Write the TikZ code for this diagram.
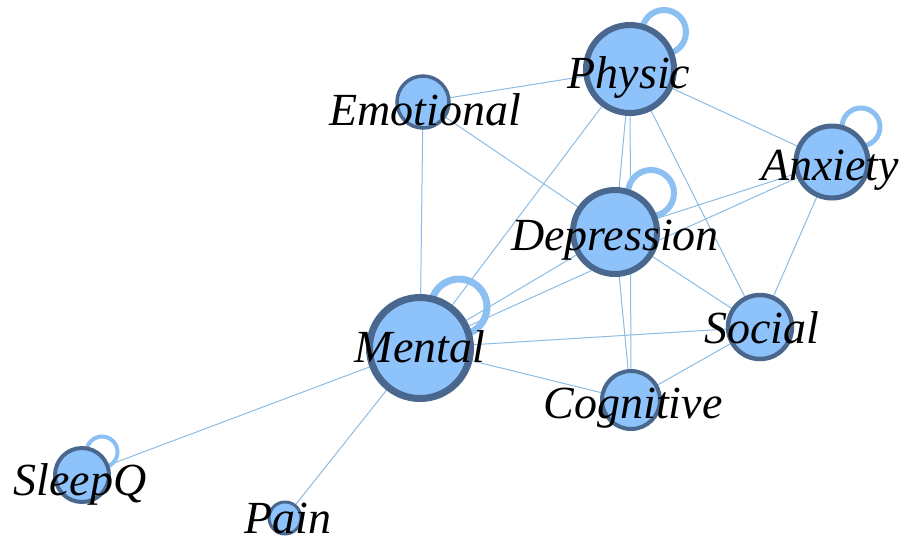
\documentclass[tikz,border=0pt]{standalone}
\usepackage{fontspec}
\newfontfamily\lblfont{Liberation Serif}
\definecolor{edgecol}{RGB}{140,188,228}
\definecolor{loopcol}{RGB}{140,192,242}
\definecolor{nodefill}{RGB}{142,194,250}
\definecolor{nodeborder}{RGB}{74,104,142}
\tikzset{
  netedge/.style={draw=edgecol, line width=1pt},
  selfloop/.style={draw=loopcol},
  vertex/.style={circle, fill=nodefill, draw=nodeborder, inner sep=0pt},
  lbl/.style={anchor=base, inner sep=0pt, font=\lblfont\fontsize{46}{46}\selectfont\itshape},
}
\begin{document}
\begin{tikzpicture}[x=1pt,y=-1pt]
\useasboundingbox (0,0) rectangle (907,544);
% node centres
\coordinate (P) at (630,69);
\coordinate (E) at (423,102);
\coordinate (D) at (615,232);
\coordinate (A) at (832,162);
\coordinate (S) at (760,327);
\coordinate (M) at (420,348);
\coordinate (C) at (631,400);
\coordinate (Q) at (82,475);
\coordinate (N) at (285,518);
% edges
\foreach \a/\b in {E/P,E/D,E/M,P/A,P/D,P/C,P/S,P/M,A/D,A/M,A/S,D/M,D/S,D/C,M/S,M/C,M/Q,M/N,S/C}
  \draw[netedge] (\a) -- (\b);
% self loops
\draw[selfloop, line width=6pt] (664,32) circle (22);
\draw[selfloop, line width=6pt] (651,193) circle (23);
\draw[selfloop, line width=7pt] (459,307) circle (28);
\draw[selfloop, line width=5pt] (861,127) circle (19);
\draw[selfloop, line width=4pt] (102,452) circle (15.5);
% nodes
\node[vertex, line width=6pt, minimum size=88pt] (nP) at (P) {};
\node[vertex, line width=3.5pt, minimum size=52pt] (nE) at (E) {};
\node[vertex, line width=6pt, minimum size=84pt] (nD) at (D) {};
\node[vertex, line width=5pt, minimum size=72pt] (nA) at (A) {};
\node[vertex, line width=4.5pt, minimum size=64pt] (nS) at (S) {};
\node[vertex, line width=7pt, minimum size=101pt] (nM) at (M) {};
\node[vertex, line width=4pt, minimum size=58pt] (nC) at (C) {};
\node[vertex, line width=4pt, minimum size=54pt] (nQ) at (Q) {};
\node[vertex, line width=3pt, minimum size=32pt] (nN) at (N) {};
% labels
\node[lbl] (tP) at (629,88) {Physic};
\node[lbl] (tE) at (425,125) {Emotional};
\node[lbl] (tD) at (615,250) {Depression};
\node[lbl] (tA) at (830,180) {Anxiety};
\node[lbl] (tS) at (762,343) {Social};
\node[lbl] (tM) at (420,362) {Mental};
\node[lbl] (tC) at (633,418) {Cognitive};
\node[lbl] (tQ) at (80,495) {SleepQ};
\node[lbl] (tN) at (288,533) {Pain};
\end{tikzpicture}
\end{document}
